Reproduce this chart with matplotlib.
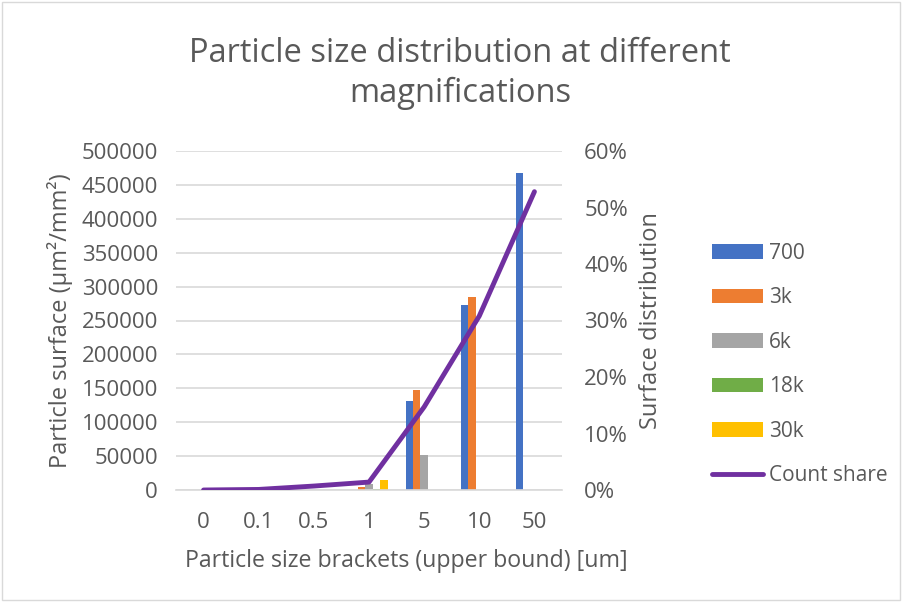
import numpy as np
import matplotlib
matplotlib.use("Agg")
import matplotlib.pyplot as plt
from matplotlib.patches import Patch, Rectangle
from matplotlib.lines import Line2D

# ── Data ─────────────────────────────────────────────────────────────────────
brackets = ["0", "0.1", "0.5", "1", "5", "10", "50"]
series_names = ["700", "3k", "6k", "18k", "30k"]

surf_700 = [0, 0, 0, 0, 132000, 273000, 467000]
surf_3k  = [0, 0, 0, 5000, 148000, 284000, 0]
surf_6k  = [0, 0, 0, 9000, 52000, 0, 0]
surf_18k = [0, 0, 0, 1200, 0, 0, 0]
surf_30k = [0, 0, 0, 14500, 0, 0, 0]

count_share = [0.0, 0.001, 0.007, 0.014, 0.147, 0.308, 0.528]

# ── Style ────────────────────────────────────────────────────────────────────
colors = ["#4472C4", "#ED7D31", "#A5A5A5", "#70AD47", "#FFC000"]
line_color = "#7030A0"
text_color = "#595959"
grid_color = "#D9D9D9"

plt.rcParams["font.family"] = ["Open Sans", "DejaVu Sans"]

fig = plt.figure(figsize=(9.02, 6.02), dpi=100)
fig.patches.append(Rectangle((0.002, 0.004), 0.996, 0.992, transform=fig.transFigure,
                             fill=False, edgecolor="#D9D9D9", linewidth=1))

ax = fig.add_axes([176 / 902, 1 - 490 / 602, 386 / 902, 339 / 602])
ax2 = ax.twinx()

x = np.arange(len(brackets))
width = 0.135
all_series = [surf_700, surf_3k, surf_6k, surf_18k, surf_30k]
for i, (vals, c) in enumerate(zip(all_series, colors)):
    ax.bar(x + (i - 2) * width, vals, width, color=c, linewidth=0, zorder=2)

ax.set_xlim(-0.5, len(brackets) - 0.5)
ax.set_ylim(0, 500000)
ax.set_yticks(np.arange(0, 500001, 50000))
ax.yaxis.grid(True, color=grid_color, linewidth=1.2)
ax.set_axisbelow(True)
ax.set_xticks(x)
ax.set_xticklabels(brackets)

ax2.plot(x, count_share, color=line_color, linewidth=3.5, solid_capstyle="round",
         zorder=3)
ax2.set_ylim(0, 0.6)
ax2.set_yticks(np.arange(0, 0.61, 0.1))
ax2.set_yticklabels([f"{int(round(v * 100))}%" for v in np.arange(0, 0.61, 0.1)])

for a in (ax, ax2):
    for s in a.spines.values():
        s.set_visible(False)
    a.tick_params(length=0, labelsize=16, colors=text_color)
ax.spines["bottom"].set_visible(True)
ax.spines["bottom"].set_color(grid_color)
ax.spines["bottom"].set_linewidth(1.2)
ax.tick_params(axis="x", pad=16)
ax.tick_params(axis="y", pad=13)
ax2.tick_params(axis="y", pad=16)

ax.set_ylabel("Particle surface (µm²/mm²)", fontsize=17, color=text_color, labelpad=6)
ax2.set_ylabel("Surface distribution", fontsize=17, color=text_color, labelpad=8)
ax.set_xlabel("Particle size brackets (upper bound) [um]", fontsize=16.7,
              color=text_color)
# Excel centres this title on the chart rather than the plot area
ax.xaxis.set_label_coords((406 - 176) / 386, -(561 - 490) / 339)
ax.xaxis.label.set_va("center")

fig.text(0.510, 0.878, "Particle size distribution at different\nmagnifications",
         ha="center", va="center", fontsize=23.5, color=text_color, linespacing=1.3)

handles = [Patch(facecolor=c, edgecolor="none") for c in colors]
handles.append(Line2D([0], [0], color=line_color, linewidth=3.5, solid_capstyle="round"))
fig.legend(handles, series_names + ["Count share"], loc="upper left",
           bbox_to_anchor=(712 / 902, 0.597), frameon=False, fontsize=15,
           labelcolor=text_color, handlelength=2.45, handleheight=0.7,
           labelspacing=1.13, handletextpad=0.3, borderaxespad=0, borderpad=0)

fig.savefig("out.png", dpi=100)
